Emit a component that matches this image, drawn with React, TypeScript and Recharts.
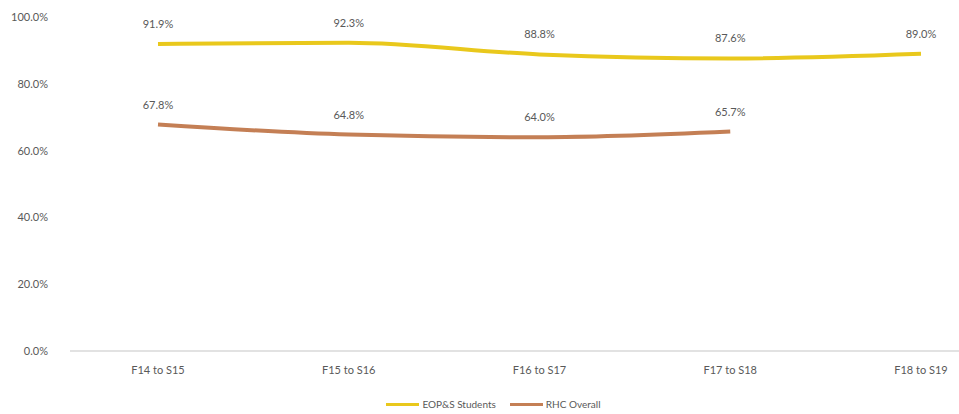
import React from "react";
import { LineChart, Line, XAxis, YAxis, Legend, LabelList } from "recharts";

const CATEGORIES = ["F14 to S15", "F15 to S16", "F16 to S17", "F17 to S18", "F18 to S19"];
const EOPS_VALUES = [91.9, 92.3, 88.8, 87.6, 89.0];
const RHC_VALUES: (number | null)[] = [67.8, 64.8, 64.0, 65.7, null];
const Y_TICKS = [0, 20, 40, 60, 80, 100];

const EOPS_COLOR = "#E9C81C";
const RHC_COLOR = "#C47F55";
const TEXT_COLOR = "#595959";
const FONT = "Lato, 'Open Sans', sans-serif";

const data = CATEGORIES.map((name, i) => ({
  name,
  eops: EOPS_VALUES[i],
  rhc: RHC_VALUES[i],
}));

const fmt = (v: unknown) => (typeof v === "number" ? `${v.toFixed(1)}%` : "");

function LegendContent() {
  const items = [
    { label: "EOP&S Students", color: EOPS_COLOR },
    { label: "RHC Overall", color: RHC_COLOR },
  ];
  return (
    <div
      style={{
        display: "flex",
        justifyContent: "center",
        gap: 14,
        paddingTop: 17,
        paddingLeft: 28,
        fontFamily: FONT,
        fontSize: 10,
        color: TEXT_COLOR,
      }}
    >
      {items.map((it) => (
        <div key={it.label} style={{ display: "flex", alignItems: "center" }}>
          <span style={{ display: "inline-block", width: 33, height: 3, background: it.color, marginRight: 3 }} />
          <span>{it.label}</span>
        </div>
      ))}
    </div>
  );
}

export default function App() {
  return (
    <div style={{ position: "absolute", left: 0, top: 0, width: 959, height: 414, background: "#fff" }}>
      <LineChart width={959} height={414} data={data} margin={{ top: 17, right: 0, left: 0, bottom: 4 }}>
        <XAxis
          dataKey="name"
          height={30}
          padding={{ left: 88, right: 38 }}
          tickLine={false}
          axisLine={{ stroke: "#D9D9D9", strokeWidth: 1.5 }}
          tick={{ fill: TEXT_COLOR, fontSize: 11, fontFamily: FONT }}
          tickMargin={9}
        />
        <YAxis
          width={70}
          domain={[0, 100]}
          ticks={Y_TICKS}
          tickFormatter={fmt}
          axisLine={false}
          tickLine={false}
          tickMargin={16}
          tick={{ fill: TEXT_COLOR, fontSize: 11, fontFamily: FONT }}
        />
        <Legend verticalAlign="bottom" height={29} content={<LegendContent />} />
        <Line
          type="monotone"
          dataKey="eops"
          name="EOP&S Students"
          stroke={EOPS_COLOR}
          strokeWidth={4}
          dot={false}
          isAnimationActive={false}
        >
          <LabelList dataKey="eops" position="top" offset={16} formatter={fmt} fill={TEXT_COLOR} fontSize={11} fontFamily={FONT} />
        </Line>
        <Line
          type="monotone"
          dataKey="rhc"
          name="RHC Overall"
          stroke={RHC_COLOR}
          strokeWidth={4}
          dot={false}
          isAnimationActive={false}
        >
          <LabelList dataKey="rhc" position="top" offset={16} formatter={fmt} fill={TEXT_COLOR} fontSize={11} fontFamily={FONT} />
        </Line>
      </LineChart>
    </div>
  );
}
